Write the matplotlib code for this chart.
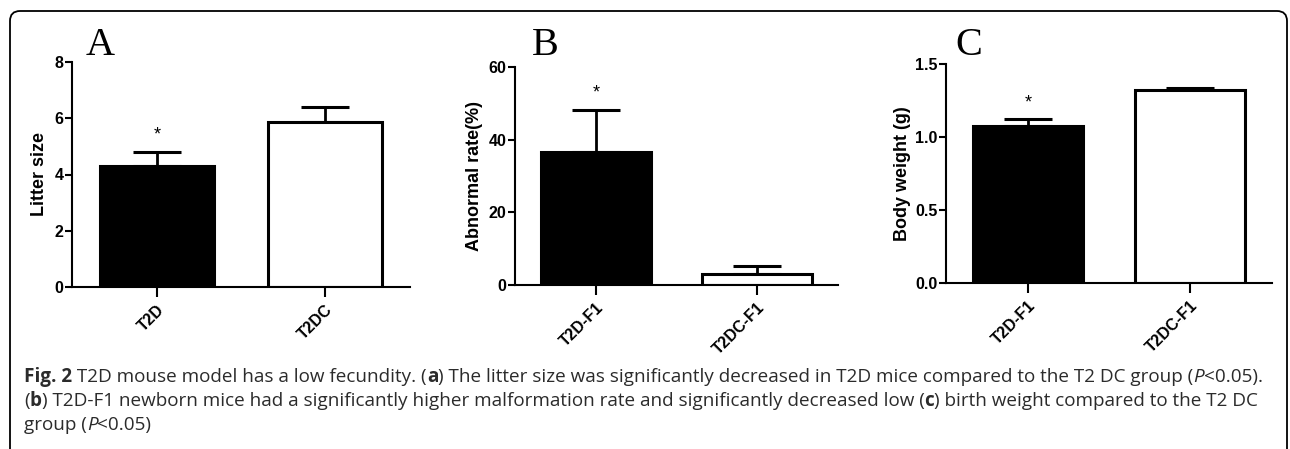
import matplotlib
matplotlib.use("Agg")
import matplotlib.pyplot as plt
from matplotlib.patches import FancyBboxPatch
from matplotlib.transforms import IdentityTransform

# dados
groups_a = ["T2D", "T2DC"]
litter_size = [4.3, 5.85]
litter_err = [0.5, 0.55]

groups_bc = ["T2D-F1", "T2DC-F1"]
abnormal_rate = [36.6, 3.0]
abnormal_err = [11.6, 2.2]

body_weight = [1.075, 1.322]
body_err = [0.048, 0.013]

W, H = 1290, 449
fig = plt.figure(figsize=(W / 100, H / 100), dpi=100)
fig.patch.set_facecolor("white")

sans = ["Liberation Sans", "DejaVu Sans"]


def px_axes(left, right, top, bottom):
    return fig.add_axes([left / W, 1 - bottom / H, (right - left) / W, (bottom - top) / H])


def painel(ax, groups, vals, errs, ymax, yticks, yfmt, ylabel, letter, letter_x, star_y, xpad, labelpad):
    x = [0, 1]
    ax.bar(x, vals, width=0.68, color=["black", "white"], edgecolor="black", linewidth=2.2, zorder=2)
    ax.errorbar(x, vals, yerr=[[0, 0], errs], fmt="none", ecolor="black",
                elinewidth=2.0, capsize=17.5, capthick=2.2, zorder=1)
    ax.text(0, star_y, "*", ha="center", va="center", fontsize=13, family=sans)
    ax.set_xlim(-xpad, 1 + xpad)
    ax.set_ylim(0, ymax)
    ax.set_yticks(yticks)
    ax.set_yticklabels([yfmt.format(v) for v in yticks], fontsize=11.5, fontweight="bold", family=sans)
    ax.set_xticks(x)
    ax.set_xticklabels(groups, rotation=45, ha="right", rotation_mode="anchor",
                       fontsize=11.5, fontweight="bold", family=sans)
    ax.tick_params(axis="y", length=5, width=1.5, pad=1)
    ax.tick_params(axis="x", length=7, width=1.5, pad=4)
    for s in ["top", "right"]:
        ax.spines[s].set_visible(False)
    for s in ["left", "bottom"]:
        ax.spines[s].set_linewidth(1.5)
    ax.set_ylabel(ylabel, fontsize=13, fontweight="bold", family=sans, labelpad=labelpad)
    fig.text(letter_x / W, 1 - 55 / H, letter, fontsize=29, family="Liberation Serif",
             ha="center", va="baseline")


axA = px_axes(72, 410, 62, 287)
painel(axA, groups_a, litter_size, litter_err, 8, [0, 2, 4, 6, 8], "{:.0f}",
       "Litter size", "A", 100, 5.4, 0.506, 5)

axB = px_axes(515, 838, 67, 285)
painel(axB, groups_bc, abnormal_rate, abnormal_err, 60, [0, 20, 40, 60], "{:.0f}",
       "Abnormal rate(%)", "B", 545, 52.8, 0.503, 4)

axC = px_axes(946, 1272, 64, 283)
painel(axC, groups_bc, body_weight, body_err, 1.5, [0, 0.5, 1.0, 1.5], "{:.1f}",
       "Body weight (g)", "C", 969, 1.23, 0.506, 3)

# moldura arredondada
frame = FancyBboxPatch((10, -30), 1277, H - 11 + 30, boxstyle="round,pad=0,rounding_size=10",
                       transform=IdentityTransform(), facecolor="none", edgecolor="black",
                       linewidth=1.3, zorder=0)
fig.patches.append(frame)

# legenda (texto com partes em negrito / itálico)
cap_font = ["Open Sans", "DejaVu Sans"]
cap_size = 13.6
lines = [
    [("Fig. 2", "bold", "normal"), (" T2D mouse model has a low fecundity. (", "normal", "normal"),
     ("a", "bold", "normal"),
     (") The litter size was significantly decreased in T2D mice compared to the T2 DC group (", "normal", "normal"),
     ("P", "normal", "italic"), ("<0.05).", "normal", "normal")],
    [("(", "normal", "normal"), ("b", "bold", "normal"),
     (") T2D-F1 newborn mice had a significantly higher malformation rate and significantly decreased low (", "normal", "normal"),
     ("c", "bold", "normal"), (") birth weight compared to the T2 DC", "normal", "normal")],
    [("group (", "normal", "normal"), ("P", "normal", "italic"), ("<0.05)", "normal", "normal")],
]
baselines = [382, 406, 430]

fig.canvas.draw()
renderer = fig.canvas.get_renderer()
for parts, yb in zip(lines, baselines):
    x = 24
    for txt, wt, st in parts:
        t = fig.text(x / W, 1 - yb / H, txt, fontsize=cap_size, family=cap_font, fontweight=wt,
                     fontstyle=st, color="#2b2b2b", ha="left", va="baseline")
        bb = t.get_window_extent(renderer=renderer)
        x += bb.width

fig.savefig("out.png", dpi=100)
